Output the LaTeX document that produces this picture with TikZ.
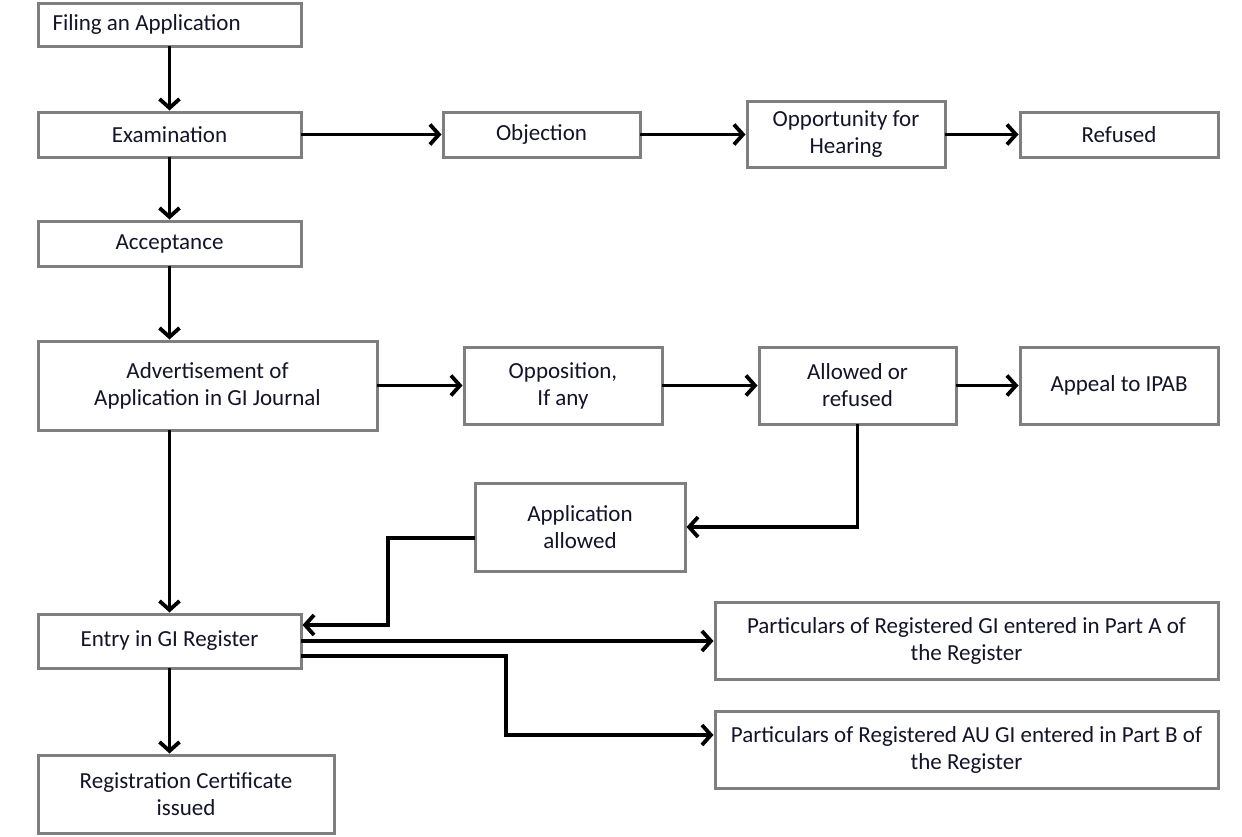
\documentclass[tikz,border=0pt]{standalone}
\usepackage{fontspec}
\setmainfont{Carlito}
\usepackage{xcolor}
\usepackage{tikz}
\usetikzlibrary{arrows.meta, positioning}
\definecolor{boxbd}{HTML}{7F7F7F}
\definecolor{ink}{HTML}{141428}
\tikzset{
  box/.style={rectangle, draw=boxbd, line width=1.5pt, fill=white, align=center,
              inner sep=3pt, outer sep=0pt, minimum width=131.5pt,
              minimum height=22.5pt, text=ink,
              font=\fontsize{11.5}{13.5}\selectfont},
  arrow/.style={-{Straight Barb[length=4.5pt, width=10pt]}, line width=1.9pt,
                draw=black, shorten >=0.75pt},
}

\begin{document}
\begin{tikzpicture}
  \useasboundingbox (0,0) rectangle (621pt,-418pt);
  % main column
  \node[box, anchor=north west, align=flush left, text width=117pt, inner xsep=7pt,
        minimum height=21.5pt] (file) at (19pt,-1.5pt) {Filing an Application};
  \node[box, below=33pt of file] (exam) {Examination};
  \node[box, below=32pt of exam] (accept) {Acceptance};
  \node[box, below=37.5pt of accept.south west, anchor=north west,
        minimum width=169.5pt, minimum height=44.5pt] (advert)
    {Advertisement of\\Application in GI Journal};
  \node[box, below=92pt of advert.south west, anchor=north west,
        minimum height=27pt] (entry) {Entry in GI Register};
  \node[box, below=43.5pt of entry.south west, anchor=north west,
        minimum width=148pt, minimum height=39pt] (cert)
    {Registration Certificate\\issued};

  % objection row
  \node[box, right=71pt of exam, minimum width=98.5pt] (obj) {Objection};
  \node[box, right=53.5pt of obj, minimum width=99pt, minimum height=33pt] (hear)
    {Opportunity for\\Hearing};
  \node[box, right=37.5pt of hear, minimum width=99pt] (refused) {Refused};

  % opposition row
  \node[box, right=43.5pt of advert, minimum width=99pt, minimum height=38.5pt] (oppos)
    {Opposition,\\If any};
  \node[box, right=48.5pt of oppos, minimum width=98.5pt, minimum height=38.5pt] (allowed)
    {Allowed or\\refused};
  \node[box, right=32pt of allowed, minimum width=99pt, minimum height=38.5pt] (appeal)
    {Appeal to IPAB};
  \node[box, below=29.5pt of oppos, xshift=8.5pt, minimum width=105pt,
        minimum height=44pt] (appallow) {Application\\allowed};

  % register parts
  \node[box, right=207pt of entry, minimum width=251.5pt, minimum height=38.5pt] (partA)
    {Particulars of Registered GI entered in Part A of\\the Register};
  \node[box, below=16pt of partA, minimum width=251.5pt, minimum height=38.5pt] (partB)
    {Particulars of Registered AU GI entered in Part B of\\the Register};

  \draw[arrow] (file) -- (exam);
  \draw[arrow] (exam) -- (obj);
  \draw[arrow] (obj) -- (hear);
  \draw[arrow] (hear) -- (refused);
  \draw[arrow] (exam) -- (accept);
  \draw[arrow] (accept.south) -- (accept.south |- advert.north);
  \draw[arrow] (advert) -- (oppos);
  \draw[arrow] (oppos) -- (allowed);
  \draw[arrow] (allowed) -- (appeal);
  \draw[arrow] (advert.south -| entry) -- (entry);
  \draw[arrow] (allowed.south) |- (appallow.east);
  \draw[arrow] ([yshift=-5.5pt]appallow.west) -- ++(-43.5pt,0) |- ([yshift=8pt]entry.east);
  \draw[arrow] (entry.east) -- (entry.east -| partA.west);
  \draw[arrow] ([yshift=-7.5pt]entry.east) -- ++(102.5pt,0) |- ([yshift=7.5pt]partB.west);
  \draw[arrow] (entry.south) -- (entry.south |- cert.north);
\end{tikzpicture}
\end{document}
